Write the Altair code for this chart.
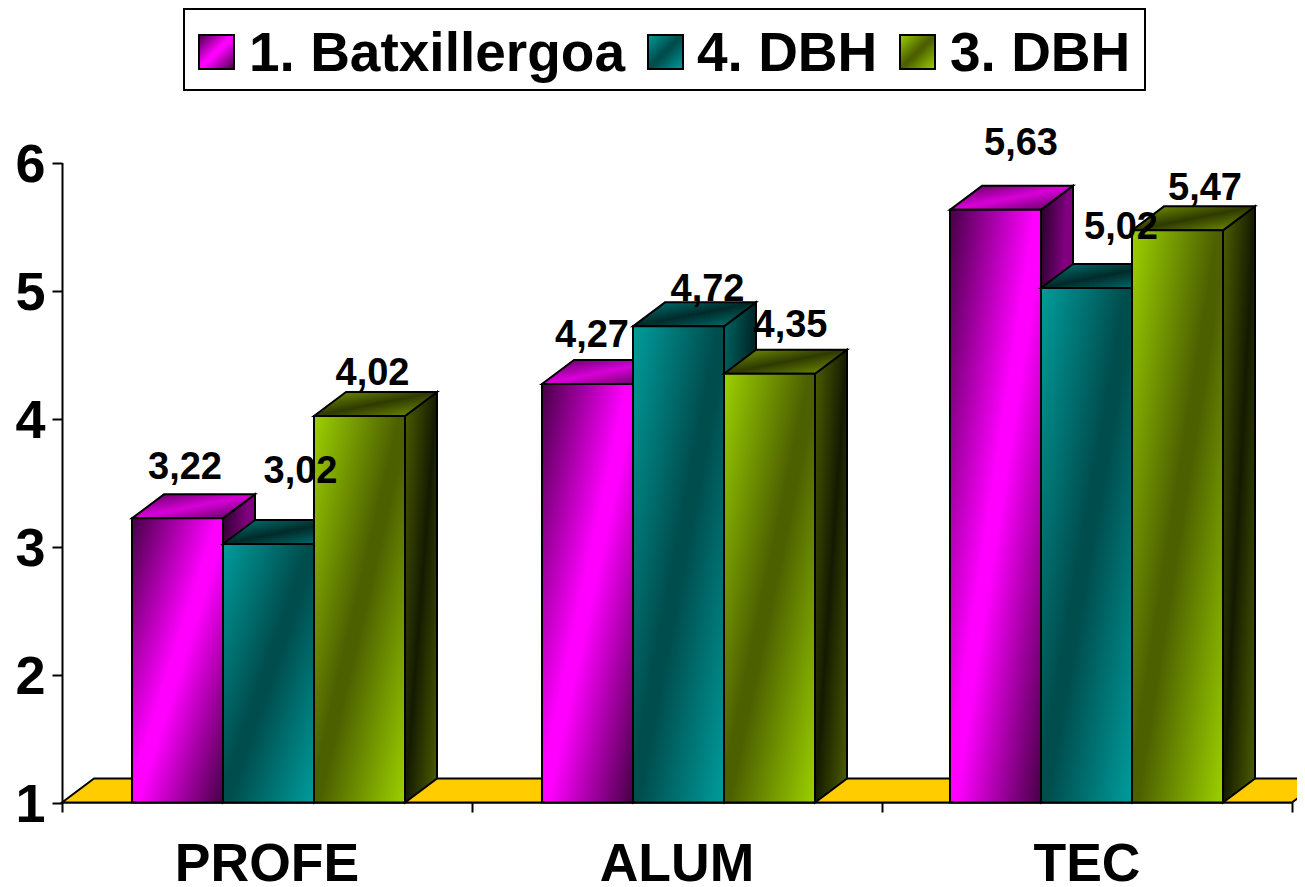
import altair as alt
import pandas as pd

categories = ["PROFE", "ALUM", "TEC"]
series = ["1. Batxillergoa", "4. DBH", "3. DBH"]
values_batx = [3.22, 4.27, 5.63]
values_dbh4 = [3.02, 4.72, 5.02]
values_dbh3 = [4.02, 4.35, 5.47]
y_ticks = [1, 2, 3, 4, 5, 6]

all_values = [values_batx, values_dbh4, values_dbh3]

# layout (pixels of the page)
PAD_L, PAD_B = 54, 85
ORIGIN = 62
PX_CAT = 410.0
PX_UNIT = 128.0
FONT = "Liberation Sans"
group_gap = [70 / PX_CAT, 70 / PX_CAT, 68 / PX_CAT]
bar_w = 91 / PX_CAT
dep_x = 32 / PX_CAT
dep_y = 24 / PX_UNIT

# label nudges from each bar's front-top-centre, in pixels (x right, y up)
label_nudge = [
    [(7.5, 50), (32, 72), (13, 42)],
    [(4.5, 48), (29, 36), (21, 48)],
    [(25.5, 66), (34.5, 60), (27.5, 41)],
]


def grad(stops, x1=0, y1=0, x2=1, y2=1):
    return alt.Gradient(
        gradient="linear",
        stops=[alt.GradientStop(color=c, offset=o) for o, c in stops],
        x1=x1, y1=y1, x2=x2, y2=y2,
    )


def band(outer, inner):
    return grad([(0.02, outer), (0.47, inner), (0.53, inner), (0.98, outer)])


front = [band("#4d004d", "#ff00ff"), band("#009999", "#004d4d"), band("#99cc00", "#4d6000")]
side = [
    grad([(0, "#260026"), (0.42, "#800080"), (0.58, "#800080"), (1, "#260026")]),
    grad([(0, "#006666"), (0.5, "#002626"), (1, "#006666")]),
    grad([(0, "#4d6000"), (0.5, "#141a00"), (1, "#4d6000")]),
]
top = [
    grad([(0.1, "#6a006a"), (0.5, "#d800d8"), (0.9, "#6a006a")]),
    grad([(0.1, "#006e6e"), (0.5, "#002a2a"), (0.9, "#006e6e")]),
    grad([(0.1, "#6d8800"), (0.5, "#2e3a00"), (0.9, "#6d8800")]),
]

x_scale = alt.Scale(domain=[0, 3], range=[0, 1230])
y_scale = alt.Scale(domain=[1, 6], range=[794.5, 154.5])

axis_style = dict(
    domainColor="black", domainWidth=2, tickColor="black", tickWidth=2,
    tickSize=10, grid=False, title=None,
)
x_axis = alt.Axis(values=[0, 1, 2, 3], labels=False, **axis_style)
y_axis = alt.Axis(
    values=y_ticks, format="d", labelFont=FONT, labelFontSize=54,
    labelFontWeight="bold", labelColor="black", labelPadding=7, labelOffset=3,
    **axis_style
)


def X(f):
    return alt.X(f, type="quantitative", scale=x_scale, axis=x_axis)


def Y(f):
    return alt.Y(f, type="quantitative", scale=y_scale, axis=y_axis, stack=None)


# floor
floor_df = pd.DataFrame({
    "y": [1, 1 + dep_y],
    "a": [0, dep_x],
    "b": [3, 3 + dep_x],
})
layers = [
    alt.Chart(floor_df)
    .mark_area(orient="horizontal", fill="#ffcc00", stroke="black", strokeWidth=2)
    .encode(y=Y("y"), x=X("a"), x2="b")
]

# bars, series by series so that later bars overlap earlier ones
for s, vals in enumerate(all_values):
    side_rows, top_rows, front_rows = [], [], []
    for c, v in enumerate(vals):
        x0 = c + group_gap[c] + s * bar_w
        x1 = x0 + bar_w
        front_rows.append({"x0": x0, "x1": x1, "base": 1, "v": v})
        side_rows += [
            {"bar": c, "x": x1, "lo": 1, "hi": v},
            {"bar": c, "x": x1 + dep_x, "lo": 1 + dep_y, "hi": v + dep_y},
        ]
        top_rows += [
            {"bar": c, "y": v, "a": x0, "b": x1},
            {"bar": c, "y": v + dep_y, "a": x0 + dep_x, "b": x1 + dep_x},
        ]
    layers.append(
        alt.Chart(pd.DataFrame(side_rows))
        .mark_area(fill=side[s], stroke="black", strokeWidth=2)
        .encode(x=X("x"), y=Y("hi"), y2="lo", detail="bar:N")
    )
    layers.append(
        alt.Chart(pd.DataFrame(top_rows))
        .mark_area(orient="horizontal", fill=top[s], stroke="black", strokeWidth=2)
        .encode(y=Y("y"), x=X("a"), x2="b", detail="bar:N")
    )
    layers.append(
        alt.Chart(pd.DataFrame(front_rows))
        .mark_rect(fill=front[s], stroke="black", strokeWidth=2)
        .encode(x=X("x0"), x2="x1", y=Y("v"), y2="base")
    )

# value labels
label_rows = []
for s, vals in enumerate(all_values):
    for c, v in enumerate(vals):
        nx, ny = label_nudge[c][s]
        label_rows.append({
            "x": c + group_gap[c] + (s + 0.5) * bar_w + nx / PX_CAT,
            "y": v + ny / PX_UNIT,
            "t": f"{v:.2f}".replace(".", ","),
        })
layers.append(
    alt.Chart(pd.DataFrame(label_rows))
    .mark_text(font=FONT, fontSize=38, fontWeight="bold", color="black",
               align="center", baseline="middle")
    .encode(x=X("x"), y=Y("y"), text="t:N")
)

# category labels
cat_df = pd.DataFrame({"x": [i + 0.5 for i in range(3)], "t": categories})
layers.append(
    alt.Chart(cat_df)
    .mark_text(font=FONT, fontSize=53.5, fontWeight="bold", color="black",
               align="center", baseline="alphabetic")
    .encode(x=X("x"), y=alt.value(881 - 8), text="t:N")
)

# legend, drawn so its swatches can carry the same gradients as the bars
one = pd.DataFrame({"k": [0]})
layers.append(
    alt.Chart(one)
    .mark_rect(fill="white", stroke="black", strokeWidth=2)
    .encode(x=alt.value(184 - ORIGIN), x2=alt.value(1145 - ORIGIN),
            y=alt.value(9 - 8), y2=alt.value(90 - 8))
)
swatch_x = [199, 648, 900]
text_x = [249, 697, 950]
for s, name in enumerate(series):
    layers.append(
        alt.Chart(one)
        .mark_rect(fill=front[s], stroke="black", strokeWidth=2)
        .encode(x=alt.value(swatch_x[s] - ORIGIN), x2=alt.value(swatch_x[s] + 35 - ORIGIN),
                y=alt.value(35 - 8), y2=alt.value(69 - 8))
    )
    layers.append(
        alt.Chart(pd.DataFrame({"t": [name]}))
        .mark_text(font=FONT, fontSize=55, fontWeight="bold", color="black",
                   align="left", baseline="alphabetic")
        .encode(x=alt.value(text_x[s] - ORIGIN), y=alt.value(71 - 8), text="t:N")
    )

chart = (
    alt.layer(*layers)
    .properties(
        width=1235, height=794,
        padding={"left": PAD_L, "right": 0, "top": 0, "bottom": PAD_B},
        autosize=alt.AutoSizeParams(type="none"),
        background="white",
    )
    .configure_view(stroke=None)
)
chart.save("out.html", embed_options={"renderer": "svg", "actions": False})
